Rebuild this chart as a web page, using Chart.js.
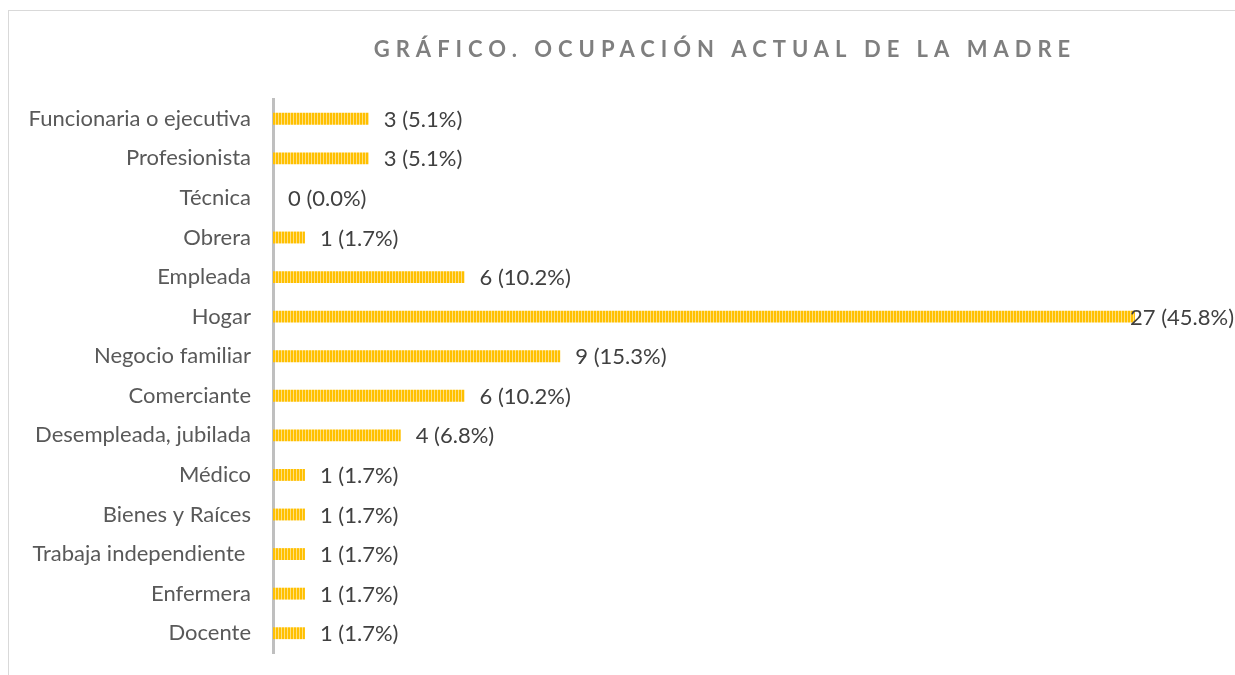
<!DOCTYPE html>
<html lang="es">
<head>
  <meta charset="UTF-8">
  <title>Ocupación actual de la madre</title>
  <script src="https://cdn.jsdelivr.net/npm/chart.js"></script>
</head>
<style>
  body { margin: 0; background: #fff; }
  .chart-container { width: 1235px; height: 675px; }
</style>
<body>
  <div class="chart-container">
    <canvas id="chartCanvas" width="1235" height="675"></canvas>
  </div>
  <script>
    const categorias = ['Funcionaria o ejecutiva', 'Profesionista', 'Técnica', 'Obrera', 'Empleada', 'Hogar',
      'Negocio familiar', 'Comerciante', 'Desempleada, jubilada', 'Médico', 'Bienes y Raíces',
      'Trabaja independiente ', 'Enfermera', 'Docente'];
    const valores = [3, 3, 0, 1, 6, 27, 9, 6, 4, 1, 1, 1, 1, 1];
    const porcentajes = ['5.1%', '5.1%', '0.0%', '1.7%', '10.2%', '45.8%', '15.3%', '10.2%', '6.8%', '1.7%', '1.7%', '1.7%', '1.7%', '1.7%'];
    const titulo = 'GRÁFICO. OCUPACIÓN ACTUAL DE LA MADRE';

    // patron de rayas verticales para las barras
    const pc = document.createElement('canvas');
    pc.width = 3; pc.height = 10;
    const pctx = pc.getContext('2d');
    pctx.fillStyle = '#FFC000';
    pctx.fillRect(0, 0, 2, 10);
    pctx.fillStyle = '#FFDF80';
    pctx.fillRect(2, 0, 1, 10);

    const ctx = document.getElementById('chartCanvas').getContext('2d');
    const rayas = ctx.createPattern(pc, 'repeat');

    const marcoYTitulo = {
      id: 'marcoYTitulo',
      beforeDraw(chart) {
        const c = chart.ctx;
        c.save();
        c.strokeStyle = '#d9d9d9';
        c.lineWidth = 1;
        c.strokeRect(8.5, 10.5, 1300, 700);
        c.restore();
      },
      afterDraw(chart) {
        const c = chart.ctx;
        c.save();
        c.font = 'bold 22px Lato';
        c.fillStyle = '#7f7f7f';
        c.letterSpacing = '6px';
        c.textAlign = 'left';
        c.textBaseline = 'middle';
        const w = c.measureText(titulo).width - 6;
        c.fillText(titulo, 722 - w / 2, 50);
        c.restore();
      }
    };

    const etiquetas = {
      id: 'etiquetas',
      afterDatasetsDraw(chart) {
        const c = chart.ctx;
        const meta = chart.getDatasetMeta(0);
        c.save();
        c.font = '22px Lato';
        c.fillStyle = '#404040';
        c.textBaseline = 'middle';
        meta.data.forEach((bar, i) => {
          const txt = valores[i] + ' (' + porcentajes[i] + ')';
          const w = c.measureText(txt).width;
          let x = bar.x + 15;
          if (x + w > chart.width - 1) x = chart.width - 1 - w;
          c.fillText(txt, x, bar.y + 1);
        });
        c.restore();
      }
    };

    const chart = new Chart(ctx, {
      type: 'bar',
      data: {
        labels: categorias,
        datasets: [{
          data: valores,
          backgroundColor: rayas,
          borderWidth: 0,
          barPercentage: 0.6,
          categoryPercentage: 0.5
        }]
      },
      options: {
        indexAxis: 'y',
        responsive: false,
        animation: false,
        layout: { padding: { top: 99, right: 100, bottom: 22, left: 0 } },
        plugins: {
          legend: { display: false },
          tooltip: { enabled: false }
        },
        scales: {
          x: { display: false, min: 0, max: 27 },
          y: {
            afterFit(s) { s.width = 273; s.paddingTop = 0; s.paddingBottom = 0; },
            grid: { display: false, drawTicks: false },
            border: { display: true, color: '#bfbfbf', width: 3 },
            ticks: {
              padding: 22,
              color: '#595959',
              font: { family: 'Lato', size: 22 }
            }
          }
        }
      },
      plugins: [marcoYTitulo, etiquetas]
    });
  </script>
</body>
</html>
